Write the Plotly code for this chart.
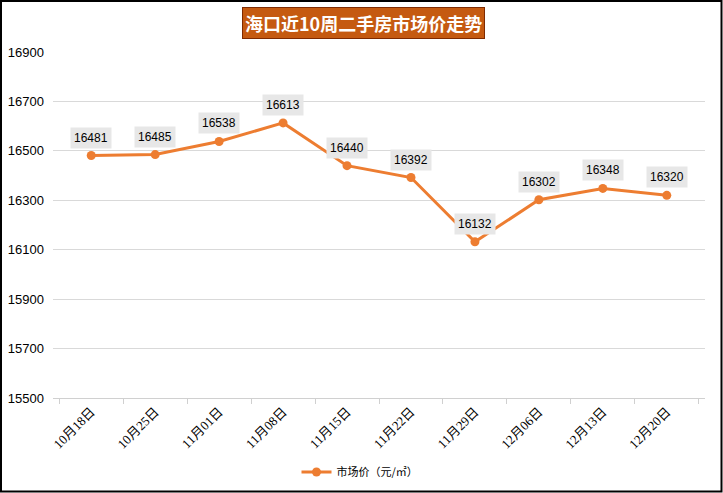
import plotly.graph_objects as go

categories = ["10月18日", "10月25日", "11月01日", "11月08日", "11月15日",
              "11月22日", "11月29日", "12月06日", "12月13日", "12月20日"]
values = [16481, 16485, 16538, 16613, 16440, 16392, 16132, 16302, 16348, 16320]
series_name = "市场价（元/㎡）"
title_text = "海口近10周二手房市场价走势"

W, H = 723, 493
ml, mr, mt, mb = 53, 18, 52, 95
pw, ph = W - ml - mr, H - mt - mb

fig = go.Figure()
fig.add_trace(go.Scatter(
    x=categories, y=values, mode="lines+markers", name=series_name,
    line=dict(color="#ED7D31", width=3),
    marker=dict(color="#ED7D31", size=9),
))

for c, v in zip(categories, values):
    fig.add_annotation(
        x=c, y=v, text=str(v), showarrow=False, yshift=18,
        bgcolor="#E7E7E7", borderpad=3,
        font=dict(family="Liberation Sans, Arial, sans-serif", size=12, color="#000000"),
    )

fig.add_annotation(
    xref="paper", yref="paper",
    x=(363 - ml) / pw, y=(H - mb - 23) / ph,
    text="<b>" + title_text + "</b>", showarrow=False,
    bgcolor="#C55A11", bordercolor="#7F2A00", borderwidth=1, borderpad=2,
    font=dict(family="Noto Sans CJK SC", size=18, color="#FFFFFF"),
    xanchor="center", yanchor="middle",
)

fig.add_shape(
    type="rect", xref="paper", yref="paper",
    x0=(1 - ml) / pw, x1=(W - 1.5 - ml) / pw,
    y0=(H - mb - (H - 1.5)) / ph, y1=(H - mb - 1) / ph,
    line=dict(color="#000000", width=2), fillcolor="rgba(0,0,0,0)", layer="above",
)

fig.update_layout(
    width=W, height=H,
    margin=dict(l=ml, r=mr, t=mt, b=mb, autoexpand=False),
    paper_bgcolor="#FFFFFF", plot_bgcolor="#FFFFFF",
    showlegend=True,
    legend=dict(orientation="h", x=(360 - ml) / pw, xanchor="center", y=(H - mb - 472) / ph,
                yanchor="middle",
                font=dict(family="Noto Sans CJK SC", size=11, color="#000000")),
    xaxis=dict(
        type="category", tickangle=-45, tickson="boundaries", automargin=False,
        ticks="outside", ticklen=5, tickcolor="#D0D0D0",
        showline=True, linecolor="#D0D0D0", linewidth=1,
        showgrid=False,
        tickfont=dict(family="Liberation Serif, Noto Sans CJK SC, serif", size=13, color="#000000"),
    ),
    yaxis=dict(
        range=[15500, 16900], dtick=200, tick0=15500, tickformat="d", automargin=False,
        showgrid=True, gridcolor="#D9D9D9", gridwidth=1,
        zeroline=False, showline=False,
        tickfont=dict(family="Liberation Sans, Arial, sans-serif", size=13, color="#000000"),
        ticks="", ticklabelstandoff=8,
    ),
)

fig.write_html("out.html", config={"displayModeBar": False},
               post_script="document.body.style.margin='0';document.body.style.overflow='hidden';")
